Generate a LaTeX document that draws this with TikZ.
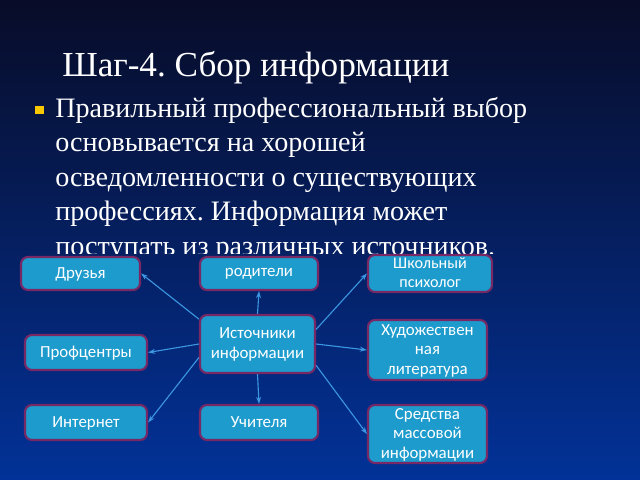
\documentclass[tikz,border=0pt]{standalone}
\usepackage{fontspec}
\setmainfont{Liberation Serif}
\newfontfamily\boxfont{Carlito}
\frenchspacing
\usetikzlibrary{arrows.meta}
\definecolor{bgtop}{RGB}{8,12,40}
\definecolor{bgmid}{RGB}{8,36,125}
\definecolor{bgbot}{RGB}{2,50,152}
\definecolor{boxfill}{RGB}{30,155,205}
\definecolor{boxrim}{RGB}{120,40,100}
\definecolor{linkblue}{RGB}{60,150,225}
\definecolor{bulletyellow}{RGB}{250,200,0}
\tikzstyle{source}=[rectangle,rounded corners=5pt,draw=boxrim,line width=1.5pt,fill=boxfill,text=white,font=\boxfont\fontsize{12}{14}\selectfont,align=center,inner sep=0pt,text depth=1pt]
\tikzstyle{link}=[->,draw=linkblue,line width=0.8pt]
\tikzstyle{slide}=[text=white,inner sep=0pt,anchor=base west]

\begin{document}
\begin{tikzpicture}[x=0.025cm,y=-0.025cm, >={Stealth[length=5pt,width=3.5pt]}]
    \shade[top color=bgtop,middle color=bgmid,bottom color=bgbot] (0,0) rectangle (640,480);
    \node[slide,font=\fontsize{25}{30}\selectfont] at (62,76) (title) {Шаг-4. Сбор информации};
    \fill[bulletyellow] (35,106) rectangle (44,114);
    % the last line is cut at the top of the boxes
    \begin{scope}
      \clip (0,0) rectangle (640,253);
      \node[slide,align=left,font=\fontsize{20}{24.5}\selectfont] at (55,255) (body) {Правильный профессиональный выбор\\основывается на хорошей\\осведомленности о существующих\\профессиях. Информация может\\поступать из различных источников.};
    \end{scope}
    \node[source,minimum width=2.975cm,minimum height=0.825cm] at (80.5,273.5) (friends) {Друзья};
    \node[source,minimum width=2.95cm,minimum height=0.825cm] at (259,273.5) (parents) {родители};
    \node[source,minimum width=3.1cm,minimum height=0.925cm,font=\boxfont\fontsize{11.5}{13.5}\selectfont] at (430,273.5) (school) {Школьный\\психолог};
    \node[source,minimum width=3.05cm,minimum height=0.875cm] at (86,352.5) (centers) {Профцентры};
    \node[source,minimum width=2.875cm,minimum height=1.45cm] at (257.5,344) (src) {Источники\\информации};
    \node[source,minimum width=2.975cm,minimum height=1.5cm] at (427.5,350) (art) {Художествен\\ная\\литература};
    \node[source,minimum width=3.05cm,minimum height=0.875cm] at (86,422.5) (web) {Интернет};
    \node[source,minimum width=2.95cm,minimum height=0.875cm] at (259,422.5) (teachers) {Учителя};
    \node[source,minimum width=2.975cm,minimum height=1.45cm] at (427.5,434) (media) {Средства\\массовой\\информации};
    \draw[link] (src.157) -- (friends.east);
    \draw[link] (src.west) -- (centers.east);
    \draw[link] (src.193) -- (web.east);
    \draw[link] (src.north) -- (parents.south);
    \draw[link] (src.south) -- (teachers.north);
    \draw[link] (src.14) -- (school.west);
    \draw[link] (src.east) -- (art.west);
    \draw[link] (src.-20) -- (media.west);
  \end{tikzpicture}
\end{document}
